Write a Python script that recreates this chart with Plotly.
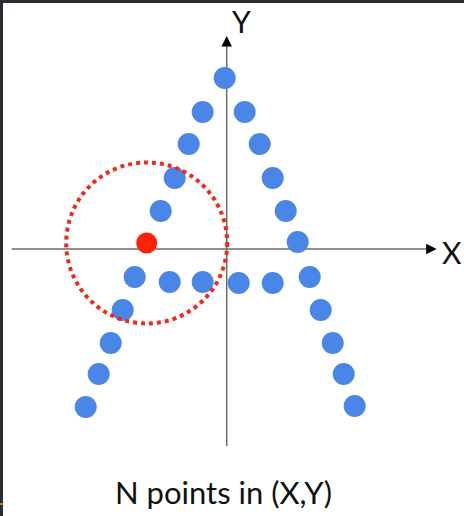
import plotly.graph_objects as go

# Point coordinates (origin at axes crossing, y up; units ~ pixels)
blue_x = [-2, -24, -38, -52, -66,
          18, 33, 46, 59, 71,
          -92, -57, -24, 12, 46, 83,
          -104, -116, -128, -141,
          94, 106, 117, 128]
blue_y = [171, 137, 105, 71, 38,
          137, 105, 71, 38, 7,
          -28, -33, -33, -34, -34, -28,
          -61, -94, -125, -158,
          -61, -94, -125, -157]
red_x = [-80]
red_y = [6]
radius = 80.5
title_text = "N points in (X,Y)"
x_label = "X"
y_label = "Y"

X0, X1 = -226.7, 237.3
Y0, Y1 = -267, 249

fig = go.Figure()
fig.add_trace(go.Scatter(x=blue_x, y=blue_y, mode="markers",
                         marker=dict(size=22, color="#4a86e8", line=dict(width=0)),
                         hoverinfo="skip", showlegend=False))
fig.add_trace(go.Scatter(x=red_x, y=red_y, mode="markers",
                         marker=dict(size=21, color="#ff2200", line=dict(width=0)),
                         hoverinfo="skip", showlegend=False))

shapes = [
    # axes lines
    dict(type="line", xref="x", yref="y", x0=-215, y0=0, x1=204, y1=0,
         line=dict(color="#6b6b6b", width=1.5), layer="below"),
    dict(type="line", xref="x", yref="y", x0=0, y0=-197, x1=0, y1=206,
         line=dict(color="#6b6b6b", width=1.5), layer="below"),
    # dotted circle
    dict(type="circle", xref="x", yref="y",
         x0=red_x[0] - radius, x1=red_x[0] + radius,
         y0=red_y[0] - radius, y1=red_y[0] + radius,
         line=dict(color="#ee2a1a", width=4, dash="dot"), layer="above"),
    # dark frame edges
    dict(type="rect", xref="paper", yref="paper", x0=0, x1=1, y0=1 - 3 / 516, y1=1,
         fillcolor="#2b2d35", line=dict(width=0)),
    dict(type="rect", xref="paper", yref="paper", x0=0, x1=3 / 464, y0=0, y1=1,
         fillcolor="#2b2d35", line=dict(width=0)),
    dict(type="rect", xref="paper", yref="paper", x0=0, x1=3 / 464,
         y0=1 - 505 / 516, y1=1 - 503 / 516,
         fillcolor="#c8801a", line=dict(width=0)),
]

annotations = [
    dict(x=210, y=0, ax=200, ay=0, xref="x", yref="y", axref="x", ayref="y",
         text="", showarrow=True, arrowhead=2, arrowsize=1.4, arrowwidth=1.5,
         arrowcolor="#000000"),
    dict(x=0, y=213, ax=0, ay=203, xref="x", yref="y", axref="x", ayref="y",
         text="", showarrow=True, arrowhead=2, arrowsize=1.4, arrowwidth=1.5,
         arrowcolor="#000000"),
    dict(x=225, y=-3, xref="x", yref="y", text=x_label, showarrow=False,
         font=dict(family="Lato", size=30, color="#111111"),
         xanchor="center", yanchor="middle"),
    dict(x=15, y=228, xref="x", yref="y", text=y_label, showarrow=False,
         font=dict(family="Lato", size=30, color="#111111"),
         xanchor="center", yanchor="middle"),
    dict(x=-3, y=-243, xref="x", yref="y", text=title_text, showarrow=False,
         font=dict(family="Lato", size=31, color="#111111"),
         xanchor="center", yanchor="middle"),
]

fig.update_layout(
    width=464, height=516,
    margin=dict(l=0, r=0, t=0, b=0),
    paper_bgcolor="white", plot_bgcolor="white",
    xaxis=dict(range=[X0, X1], visible=False, fixedrange=True),
    yaxis=dict(range=[Y0, Y1], visible=False, fixedrange=True),
    shapes=shapes, annotations=annotations,
)

fig.write_html("out.html", config={"displayModeBar": False},
               post_script="document.body.style.margin='0';document.body.style.overflow='hidden';")
